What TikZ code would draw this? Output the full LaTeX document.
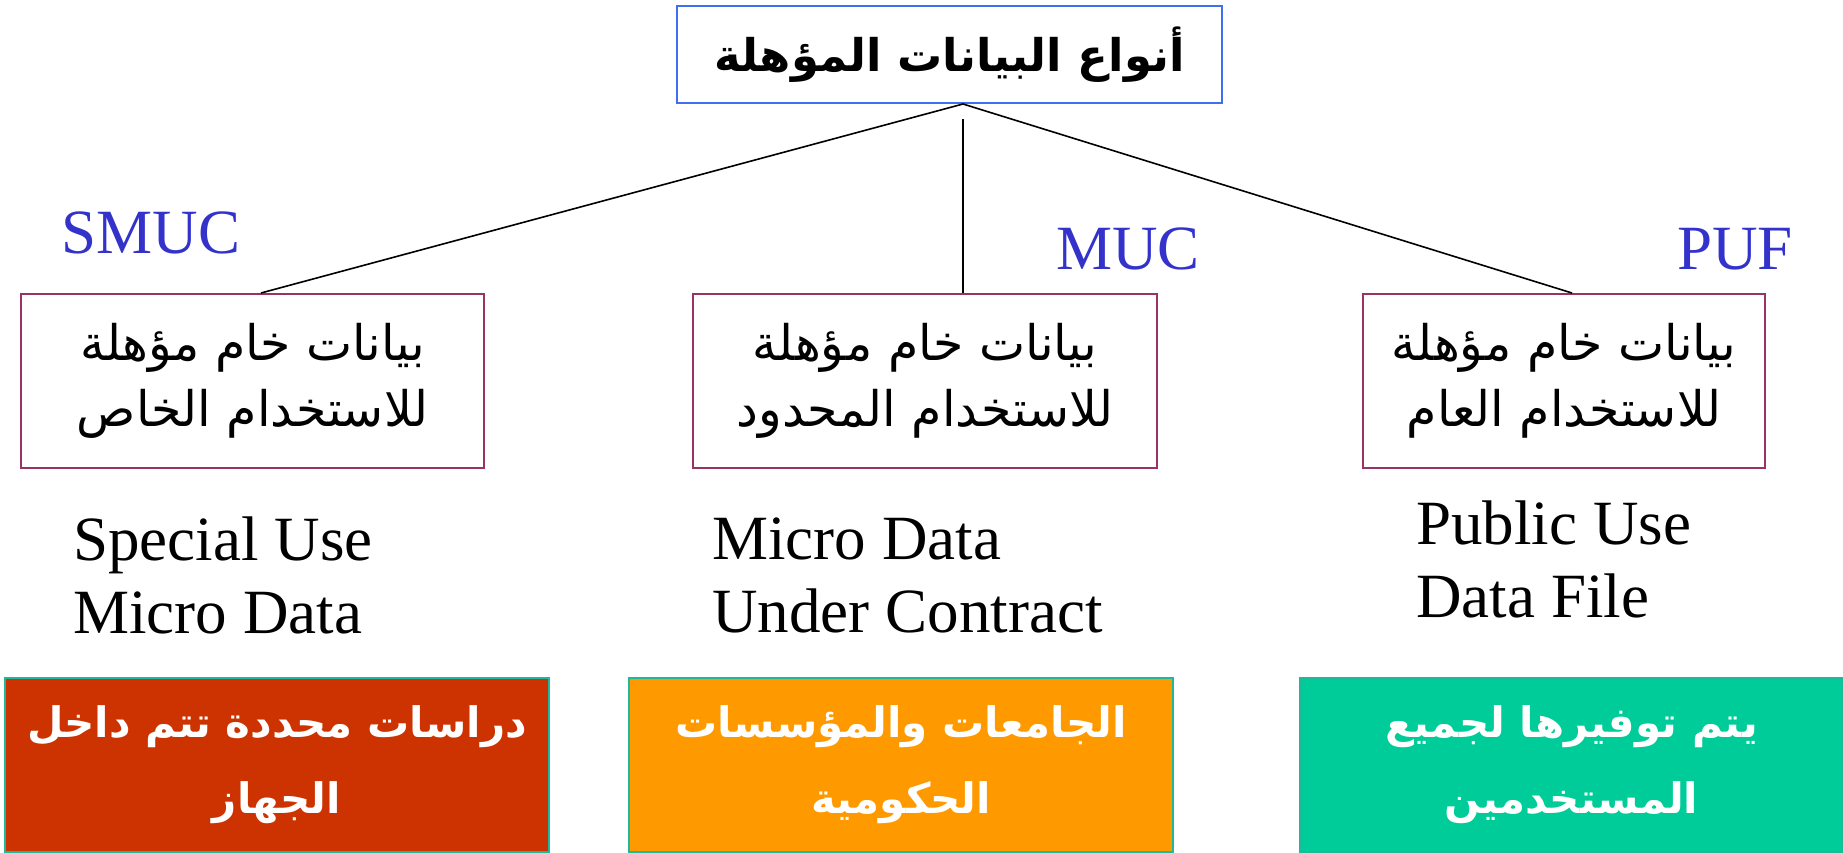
\documentclass[tikz,border=0pt]{standalone}
\usepackage{fontspec}
\setmainfont{Liberation Serif}
\newfontfamily\arabicfont[Script=Arabic]{DejaVu Sans}
\TeXXeTstate=1
\usetikzlibrary{calc}
\definecolor{topblue}{HTML}{3F6FF0}
\definecolor{boxred}{HTML}{993366}
\definecolor{lblblue}{HTML}{3333CC}
\definecolor{fillred}{HTML}{CC3300}
\definecolor{fillorange}{HTML}{FF9900}
\definecolor{fillgreen}{HTML}{00CC99}
\definecolor{tealedge}{HTML}{1FB89A}
\tikzset{
  titlebox/.style={draw=topblue, line width=1pt, minimum width=272.5pt, minimum height=48.5pt, inner sep=0pt,
    font=\arabicfont\bfseries\fontsize{22.5}{30}\selectfont},
  rawbox/.style={draw=boxred, line width=1pt, minimum height=87pt, inner sep=0pt, align=center,
    font=\arabicfont\fontsize{24.5}{33}\selectfont},
  usebox/.style={draw=tealedge, line width=1pt, minimum width=272pt, minimum height=87pt, inner sep=0pt, align=center,
    text=white, font=\arabicfont\bfseries\fontsize{21}{38}\selectfont},
  abbrev/.style={text=lblblue, font=\fontsize{31.5}{36}\selectfont, inner sep=0pt},
  engtext/.style={align=left, anchor=west, inner sep=0pt, font=\fontsize{31.5}{36.5}\selectfont},
  link/.style={line width=0.8pt}
}
\begin{document}
\begin{tikzpicture}[x=0.5pt,y=-0.5pt]
\useasboundingbox (0,0) rectangle (1843,852);
\node[titlebox] (top) at (949.5,54.5) {\beginR أنواع البيانات المؤهلة\endR};
\node[rawbox, minimum width=231.5pt] (midL) at (252.5,381) {\beginR بيانات خام مؤهلة\endR\\\beginR للاستخدام الخاص\endR};
\node[rawbox, minimum width=232pt] (midM) at (925,381) {\beginR بيانات خام مؤهلة\endR\\\beginR للاستخدام المحدود\endR};
\node[rawbox, minimum width=201pt] (midR) at (1564,381) {\beginR بيانات خام مؤهلة\endR\\\beginR للاستخدام العام\endR};
\coordinate (apex) at ($(top.south)+(13.5,0)$);
\draw[link] (apex) -- ($(midL.north)+(8.5,0)$);
\draw[link] (apex) -- ($(midR.north)+(8,0)$);
\draw[link] ($(top.south)+(13.5,15)$) -- ($(midM.north)+(38,0)$);
\node[abbrev] (smuc) at (151,233) {SMUC};
\node[abbrev] (muc) at (1128,249) {MUC};
\node[abbrev] (puf) at (1735,249) {PUF};
\node[engtext] (engL) at (73,575) {Special Use\\Micro Data};
\node[engtext] (engM) at (712,575) {Micro Data\\Under Contract};
\node[engtext] (engR) at (1416,559) {Public Use\\Data File};
\node[usebox, fill=fillred] (botL) at (277,765) {\beginR دراسات محددة تتم داخل\endR\\\beginR الجهاز\endR};
\node[usebox, fill=fillorange] (botM) at (901,765) {\beginR الجامعات والمؤسسات\endR\\\beginR الحكومية\endR};
\node[usebox, fill=fillgreen, minimum width=271.5pt] (botR) at (1571.5,765) {\beginR يتم توفيرها لجميع\endR\\\beginR المستخدمين\endR};
\end{tikzpicture}
\end{document}
